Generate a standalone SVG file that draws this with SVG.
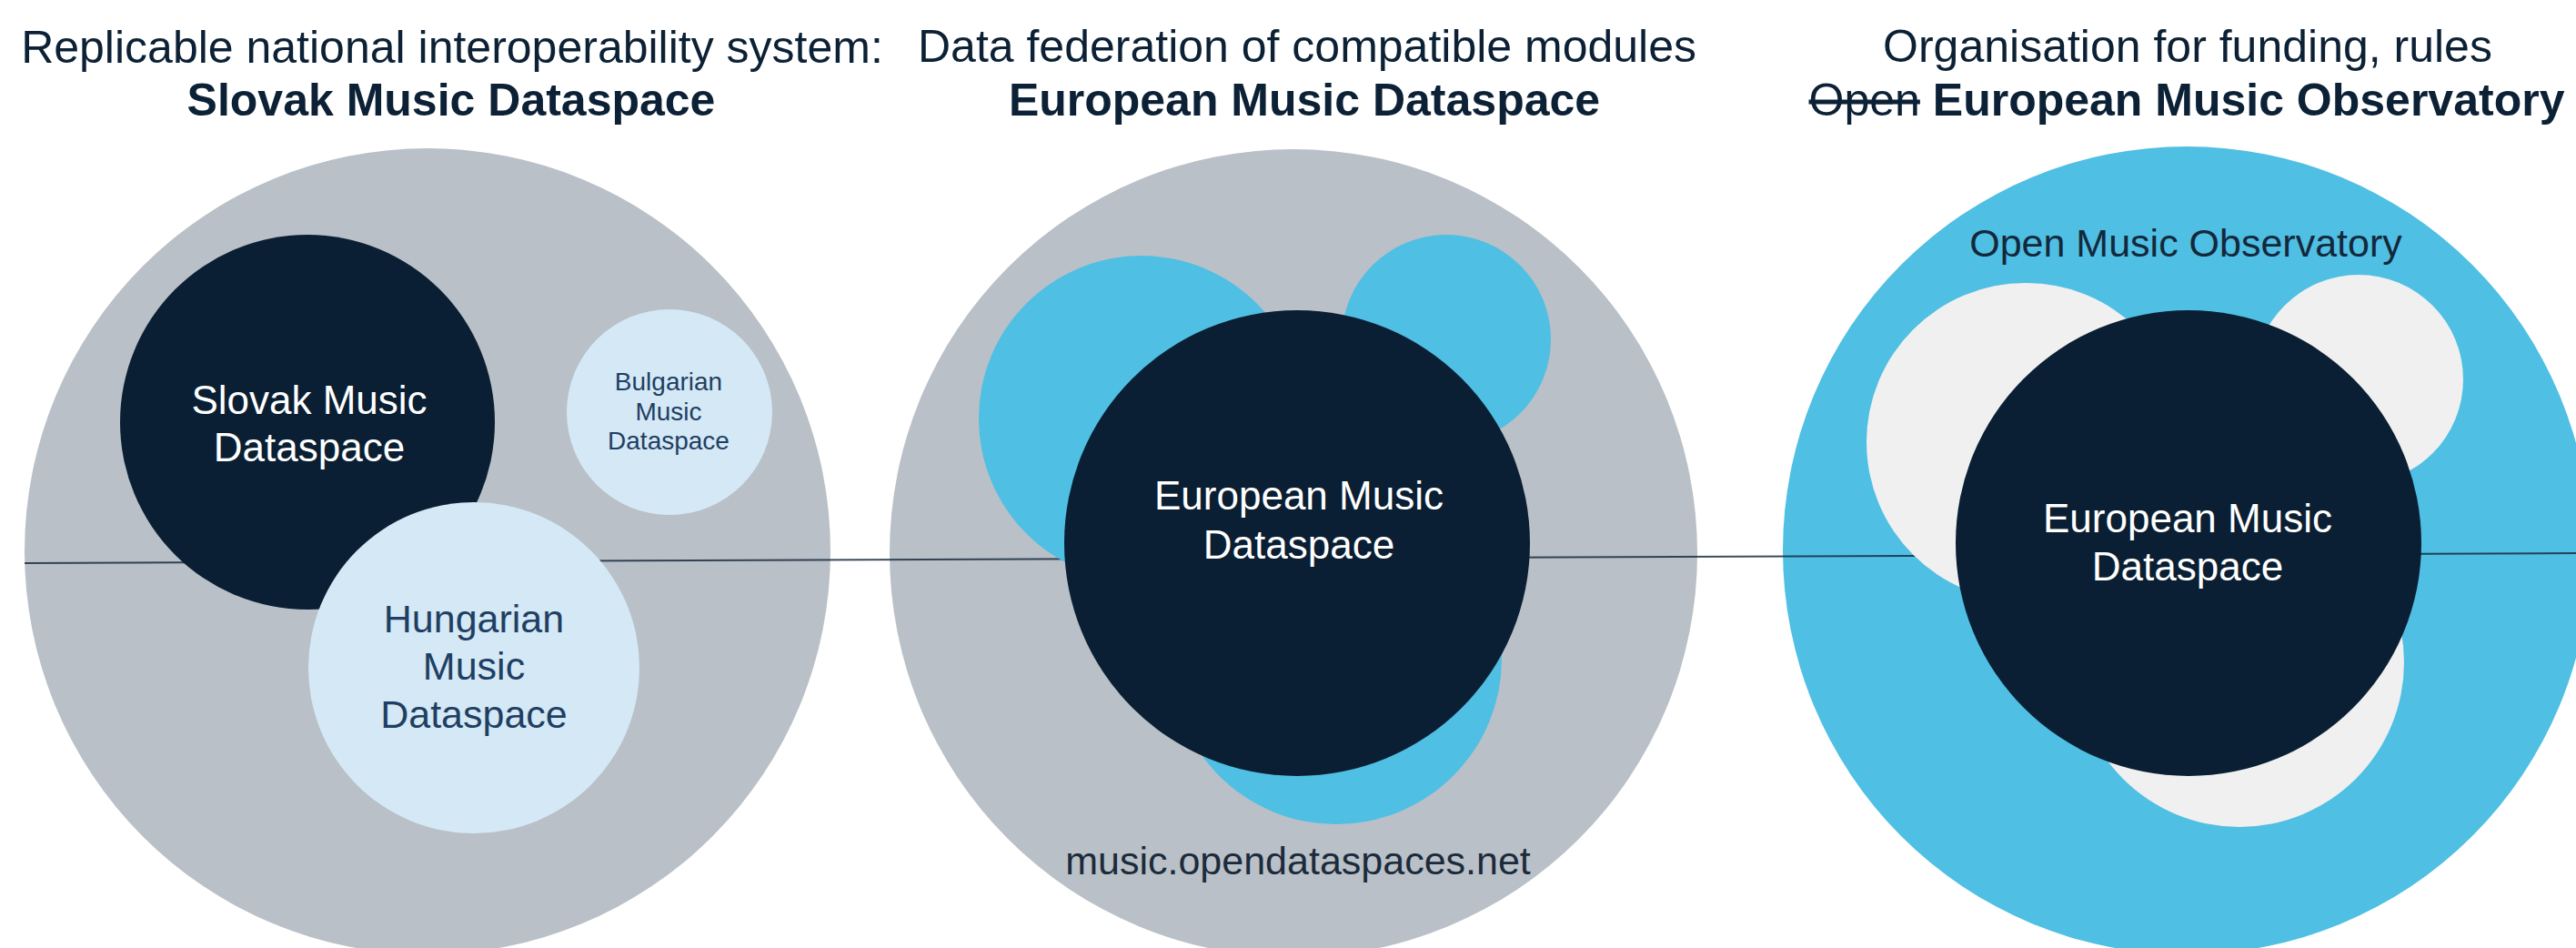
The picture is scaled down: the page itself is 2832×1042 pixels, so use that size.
<svg xmlns="http://www.w3.org/2000/svg" width="2832" height="1042" viewBox="0 0 2832 1042">
<style>
text{font-family:"Liberation Sans",Arial,sans-serif;text-anchor:middle}
.title{font-size:50px;fill:#0c2135}
.b{font-weight:bold}
.grey{fill:#b9c0c7}
.navy{fill:#0a1f33}
.pale{fill:#d4e8f6}
.cyan{fill:#4fbfe3}
.light{fill:#f0f0f0}
.wt{fill:#ffffff;font-size:44px}
.dt{fill:#1f3f62}
.conn{stroke:#1a2c40;stroke-width:2;stroke-opacity:0.85;fill:none}
</style>
<rect width="2832" height="1042" fill="#ffffff"/>
<g id="titles">
<text class="title" x="497" y="69">Replicable national interoperability system:</text>
<text class="title b" x="496" y="127">Slovak Music Dataspace</text>
<text class="title" x="1437" y="68">Data federation of compatible modules</text>
<text class="title b" x="1434" y="127">European Music Dataspace</text>
<text class="title" x="2405" y="68">Organisation for funding, rules</text>
<text class="title" x="2404" y="127"><tspan text-decoration="line-through">Open</tspan> <tspan class="b">European Music Observatory</tspan></text>
</g>
<g id="national-system"><circle class="grey" cx="470" cy="606" r="443"/></g>
<g id="federation"><circle class="grey" cx="1422" cy="608" r="444"/></g>
<g id="observatory"><circle class="cyan" cx="2404" cy="605" r="444"/>
<text x="2403" y="282" font-size="43" fill="#14283c">Open Music Observatory</text></g>
<g id="connectors"><line class="conn" x1="27" y1="619" x2="2832" y2="608"/></g>
<g id="slovak"><circle class="navy" cx="338" cy="464" r="206"/>
<text class="wt" x="340" y="455">Slovak Music</text><text class="wt" x="340" y="507">Dataspace</text></g>
<g id="bulgarian"><circle class="pale" cx="736" cy="453" r="113"/>
<text class="dt" font-size="28" x="735" y="429">Bulgarian</text><text class="dt" font-size="28" x="735" y="462">Music</text><text class="dt" font-size="28" x="735" y="494">Dataspace</text></g>
<g id="hungarian"><circle class="pale" cx="521" cy="734" r="182"/>
<text class="dt" font-size="43" x="521" y="695">Hungarian</text><text class="dt" font-size="43" x="521" y="747">Music</text><text class="dt" font-size="43" x="521" y="800">Dataspace</text></g>
<g id="module-a"><circle class="cyan" cx="1255" cy="460" r="179"/></g>
<g id="module-b"><circle class="cyan" cx="1590" cy="373" r="115"/></g>
<g id="module-c"><circle class="cyan" cx="1469" cy="724" r="182"/></g>
<g id="european-dataspace"><circle class="navy" cx="1426" cy="597" r="256"/>
<text class="wt" x="1428" y="560">European Music</text><text class="wt" x="1428" y="614">Dataspace</text></g>
<g id="federation-url"><text x="1427" y="961" font-size="43" fill="#1c2b3b">music.opendataspaces.net</text></g>
<g id="member-a"><circle class="light" cx="2227" cy="486" r="175"/></g>
<g id="member-b"><circle class="light" cx="2593" cy="417" r="115"/></g>
<g id="member-c"><circle class="light" cx="2462" cy="728" r="181"/></g>
<g id="observatory-dataspace"><circle class="navy" cx="2406" cy="597" r="256"/>
<text class="wt" x="2405" y="585">European Music</text><text class="wt" x="2405" y="638">Dataspace</text></g>
</svg>
